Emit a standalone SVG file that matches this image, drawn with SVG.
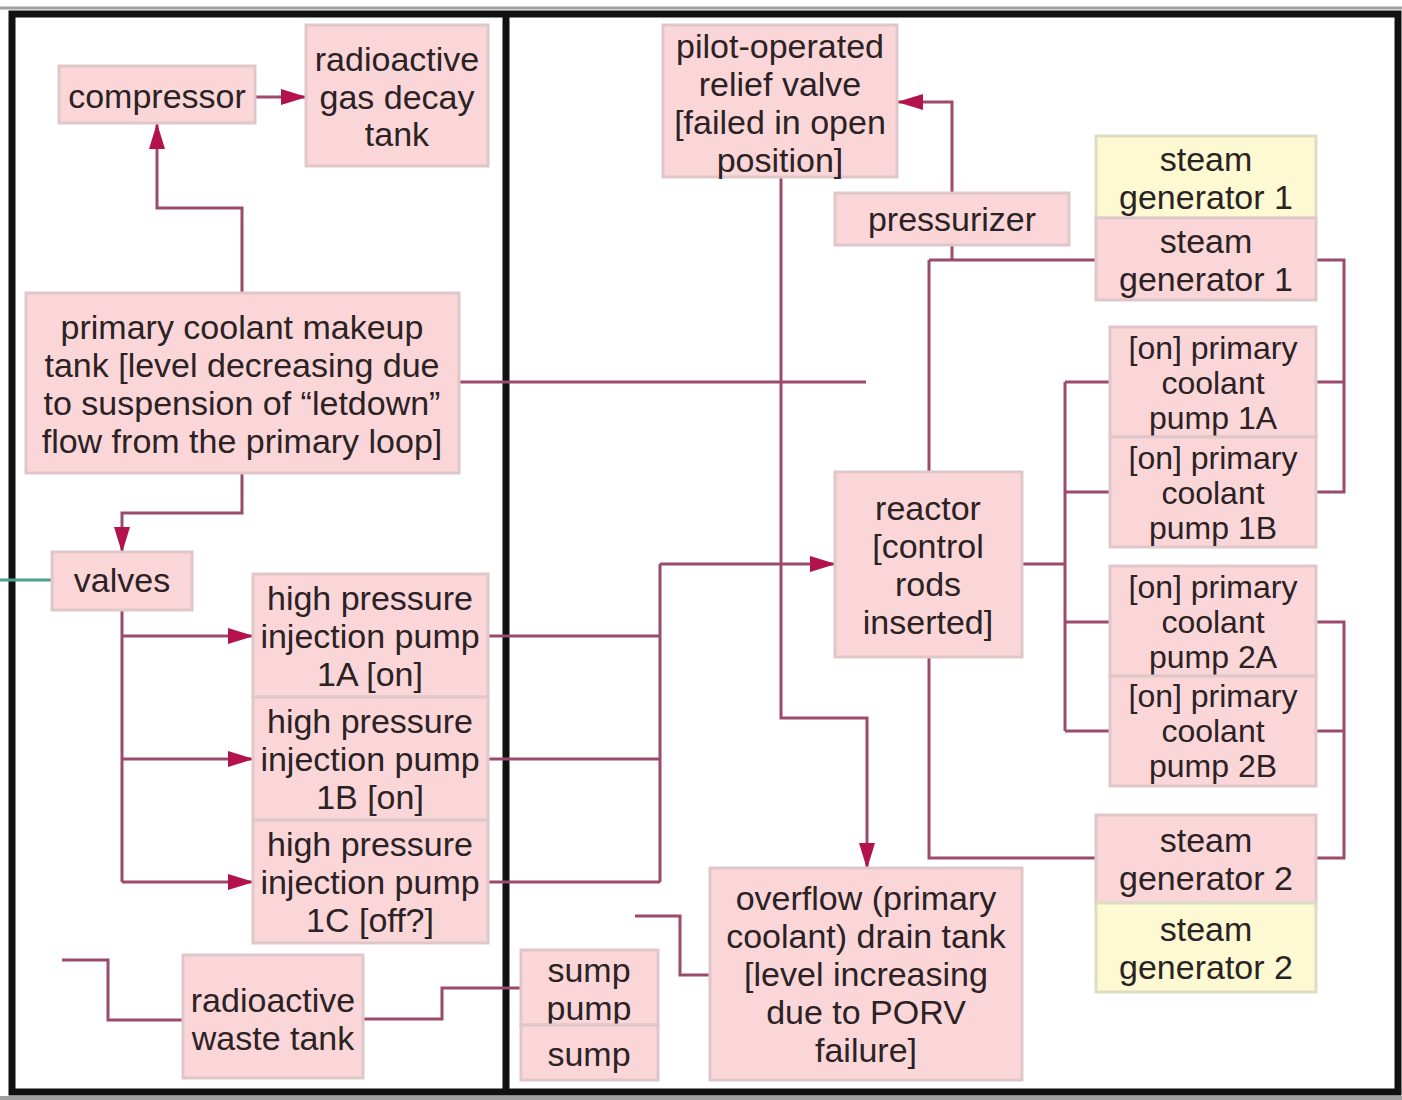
<svg xmlns="http://www.w3.org/2000/svg" width="1402" height="1100" viewBox="0 0 1402 1100">
<style>
.box{fill:#fbd6d9;stroke:#dfc7c9;stroke-width:3}
.yel{fill:#fdfad3;stroke:#dfdcc4;stroke-width:3}
.t{font-family:"Liberation Sans",Arial,sans-serif;font-size:34px;fill:#2b2224;text-anchor:middle;dominant-baseline:central}
.s{font-size:32px}
.c{fill:none;stroke:#9a4b6d;stroke-width:3}
.a{fill:none;stroke:#9a4b6d;stroke-width:3;marker-end:url(#ah)}
.teal{fill:none;stroke:#4f9d8d;stroke-width:3}
</style>
<defs>
<marker id="ah" markerUnits="userSpaceOnUse" markerWidth="26" markerHeight="16" viewBox="0 0 26 16" refX="25" refY="8" orient="auto">
<path d="M0,0 L26,8 L0,16 Z" fill="#b3124c"/>
</marker>
</defs>
<rect x="0" y="0" width="1402" height="1100" fill="#ffffff"/>
<g id="frame">
<line x1="0" y1="8" x2="1402" y2="8" stroke="#a0a0a0" stroke-width="3"/>
<line x1="0" y1="1098" x2="1402" y2="1098" stroke="#a0a0a0" stroke-width="4"/>
<rect x="12" y="14" width="1386" height="1078" fill="none" stroke="#111" stroke-width="7"/>
<line x1="506" y1="14" x2="506" y2="1092" stroke="#111" stroke-width="7"/>
</g>
<g id="connectors">
<path class="a" d="M255,97 H306"/>
<path class="a" d="M242,293 V208 H157 V124"/>
<path class="a" d="M242,473 V513 H122 V552"/>
<path class="teal" d="M0,580 H52"/>
<path class="c" d="M122,610 V882"/>
<path class="a" d="M122,636 H253"/>
<path class="a" d="M122,759 H253"/>
<path class="a" d="M122,882 H253"/>
<path class="c" d="M459,382 H866"/>
<path class="c" d="M488,636 H660 M488,759 H660 M488,882 H660 M660,564 V882"/>
<path class="a" d="M660,564 H835"/>
<path class="a" d="M781,177 V718 H867 V868"/>
<path class="a" d="M952,193 V102 H898"/>
<path class="c" d="M952,245 V260 M929,260 H1096 M929,260 V472"/>
<path class="c" d="M1316,260 H1344 V492 H1316 M1316,382 H1344"/>
<path class="c" d="M1022,564 H1065 M1065,382 V731 M1065,382 H1110 M1065,492 H1110 M1065,622 H1110 M1065,731 H1110"/>
<path class="c" d="M1316,622 H1344 V858 H1316 M1316,731 H1344"/>
<path class="c" d="M929,657 V858 H1096"/>
<path class="c" d="M635,916 H680 V975 H710"/>
<path class="c" d="M62,960 H108 V1020 H183"/>
<path class="c" d="M363,1019 H442 V988 H521"/>
</g>
<g id="compressor">
<rect class="box" x="59" y="66" width="196" height="57"/>
<text class="t" x="157" y="96">compressor</text>
</g>
<g id="gas-decay-tank">
<rect class="box" x="306" y="25" width="182" height="141"/>
<text class="t" x="397" y="59">radioactive</text>
<text class="t" x="397" y="97">gas decay</text>
<text class="t" x="397" y="134">tank</text>
</g>
<g id="makeup-tank">
<rect class="box" x="26" y="293" width="433" height="180"/>
<text class="t" x="242" y="327">primary coolant makeup</text>
<text class="t" x="242" y="365">tank [level decreasing due</text>
<text class="t" x="242" y="403">to suspension of “letdown”</text>
<text class="t" x="242" y="441">flow from the primary loop]</text>
</g>
<g id="valves">
<rect class="box" x="52" y="552" width="140" height="58"/>
<text class="t" x="122" y="580">valves</text>
</g>
<g id="hp-pump-1a">
<rect class="box" x="253" y="574" width="235" height="123"/>
<text class="t" x="370" y="598">high pressure</text>
<text class="t" x="370" y="636">injection pump</text>
<text class="t" x="370" y="674">1A [on]</text>
</g>
<g id="hp-pump-1b">
<rect class="box" x="253" y="697" width="235" height="123"/>
<text class="t" x="370" y="721">high pressure</text>
<text class="t" x="370" y="759">injection pump</text>
<text class="t" x="370" y="797">1B [on]</text>
</g>
<g id="hp-pump-1c">
<rect class="box" x="253" y="820" width="235" height="123"/>
<text class="t" x="370" y="844">high pressure</text>
<text class="t" x="370" y="882">injection pump</text>
<text class="t" x="370" y="920">1C [off?]</text>
</g>
<g id="waste-tank">
<rect class="box" x="183" y="955" width="180" height="123"/>
<text class="t" x="273" y="1000">radioactive</text>
<text class="t" x="273" y="1038">waste tank</text>
</g>
<g id="porv">
<rect class="box" x="663" y="25" width="234" height="152"/>
<text class="t" x="780" y="46">pilot-operated</text>
<text class="t" x="780" y="84">relief valve</text>
<text class="t" x="780" y="122">[failed in open</text>
<text class="t" x="780" y="160">position]</text>
</g>
<g id="pressurizer">
<rect class="box" x="835" y="193" width="234" height="52"/>
<text class="t" x="952" y="219">pressurizer</text>
</g>
<g id="sg1-secondary">
<rect class="yel" x="1096" y="136" width="220" height="82"/>
<text class="t" x="1206" y="159">steam</text>
<text class="t" x="1206" y="197">generator 1</text>
</g>
<g id="sg1-primary">
<rect class="box" x="1096" y="218" width="220" height="82"/>
<text class="t" x="1206" y="241">steam</text>
<text class="t" x="1206" y="279">generator 1</text>
</g>
<g id="rcp-1a">
<rect class="box" x="1110" y="327" width="206" height="110"/>
<text class="t s" x="1213" y="348">[on] primary</text>
<text class="t s" x="1213" y="383">coolant</text>
<text class="t s" x="1213" y="418">pump 1A</text>
</g>
<g id="rcp-1b">
<rect class="box" x="1110" y="437" width="206" height="110"/>
<text class="t s" x="1213" y="458">[on] primary</text>
<text class="t s" x="1213" y="493">coolant</text>
<text class="t s" x="1213" y="528">pump 1B</text>
</g>
<g id="rcp-2a">
<rect class="box" x="1110" y="566" width="206" height="110"/>
<text class="t s" x="1213" y="587">[on] primary</text>
<text class="t s" x="1213" y="622">coolant</text>
<text class="t s" x="1213" y="657">pump 2A</text>
</g>
<g id="rcp-2b">
<rect class="box" x="1110" y="676" width="206" height="110"/>
<text class="t s" x="1213" y="696">[on] primary</text>
<text class="t s" x="1213" y="731">coolant</text>
<text class="t s" x="1213" y="766">pump 2B</text>
</g>
<g id="sg2-primary">
<rect class="box" x="1096" y="815" width="220" height="88"/>
<text class="t" x="1206" y="840">steam</text>
<text class="t" x="1206" y="878">generator 2</text>
</g>
<g id="sg2-secondary">
<rect class="yel" x="1096" y="903" width="220" height="89"/>
<text class="t" x="1206" y="929">steam</text>
<text class="t" x="1206" y="967">generator 2</text>
</g>
<g id="reactor">
<rect class="box" x="835" y="472" width="187" height="185"/>
<text class="t" x="928" y="508">reactor</text>
<text class="t" x="928" y="546">[control</text>
<text class="t" x="928" y="584">rods</text>
<text class="t" x="928" y="622">inserted]</text>
</g>
<g id="drain-tank">
<rect class="box" x="710" y="868" width="312" height="212"/>
<text class="t" x="866" y="898">overflow (primary</text>
<text class="t" x="866" y="936">coolant) drain tank</text>
<text class="t" x="866" y="974">[level increasing</text>
<text class="t" x="866" y="1012">due to PORV</text>
<text class="t" x="866" y="1050">failure]</text>
</g>
<g id="sump-pump">
<rect class="box" x="521" y="950" width="137" height="75"/>
<text class="t" x="589" y="970">sump</text>
<text class="t" x="589" y="1008">pump</text>
</g>
<g id="sump">
<rect class="box" x="521" y="1025" width="137" height="55"/>
<text class="t" x="589" y="1054">sump</text>
</g>
</svg>
